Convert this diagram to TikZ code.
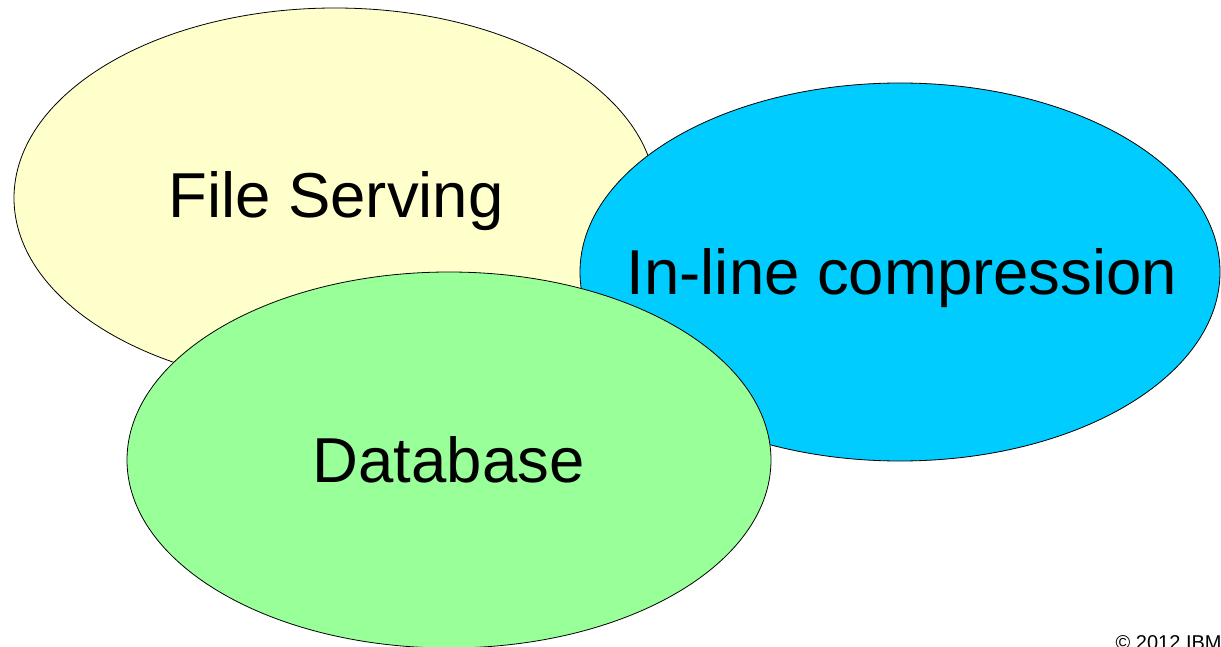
\documentclass[tikz,border=0pt]{standalone}
\usepackage{fontspec}
\setmainfont{Liberation Sans}
\definecolor{fileyellow}{HTML}{FFFFCC}
\definecolor{compblue}{HTML}{00CCFF}
\definecolor{dbgreen}{HTML}{99FF99}
\tikzset{
  blob/.style={draw=black, line width=0.8pt},
  biglabel/.style={anchor=base, inner sep=0pt, font=\fontsize{63.5}{70}\selectfont, text=black},
  smalllabel/.style={anchor=base west, inner sep=0pt, font=\fontsize{20}{22}\selectfont, text=black}
}
\begin{document}
\begin{tikzpicture}[x=1pt, y=-1pt]
  \useasboundingbox (0,0) rectangle (1221,647);
  \fill[white] (0,0) rectangle (1221,647);
  % three overlapping areas, back to front
  \path[blob, fill=fileyellow] (335,198) ellipse [x radius=321, y radius=190];
  \path[blob, fill=compblue] (900,272) ellipse [x radius=320, y radius=189];
  \path[blob, fill=dbgreen] (449,460) ellipse [x radius=322, y radius=188];
  % labels
  \node[biglabel] (fs) at (336,218) {File Serving};
  \node[biglabel] (ilc) at (902,294.5) {In-line compression};
  \node[biglabel] (db) at (448.5,482) {Database};
  \node[smalllabel] (copy) at (1115.5,649.5) {© 2012 IBM};
\end{tikzpicture}
\end{document}
